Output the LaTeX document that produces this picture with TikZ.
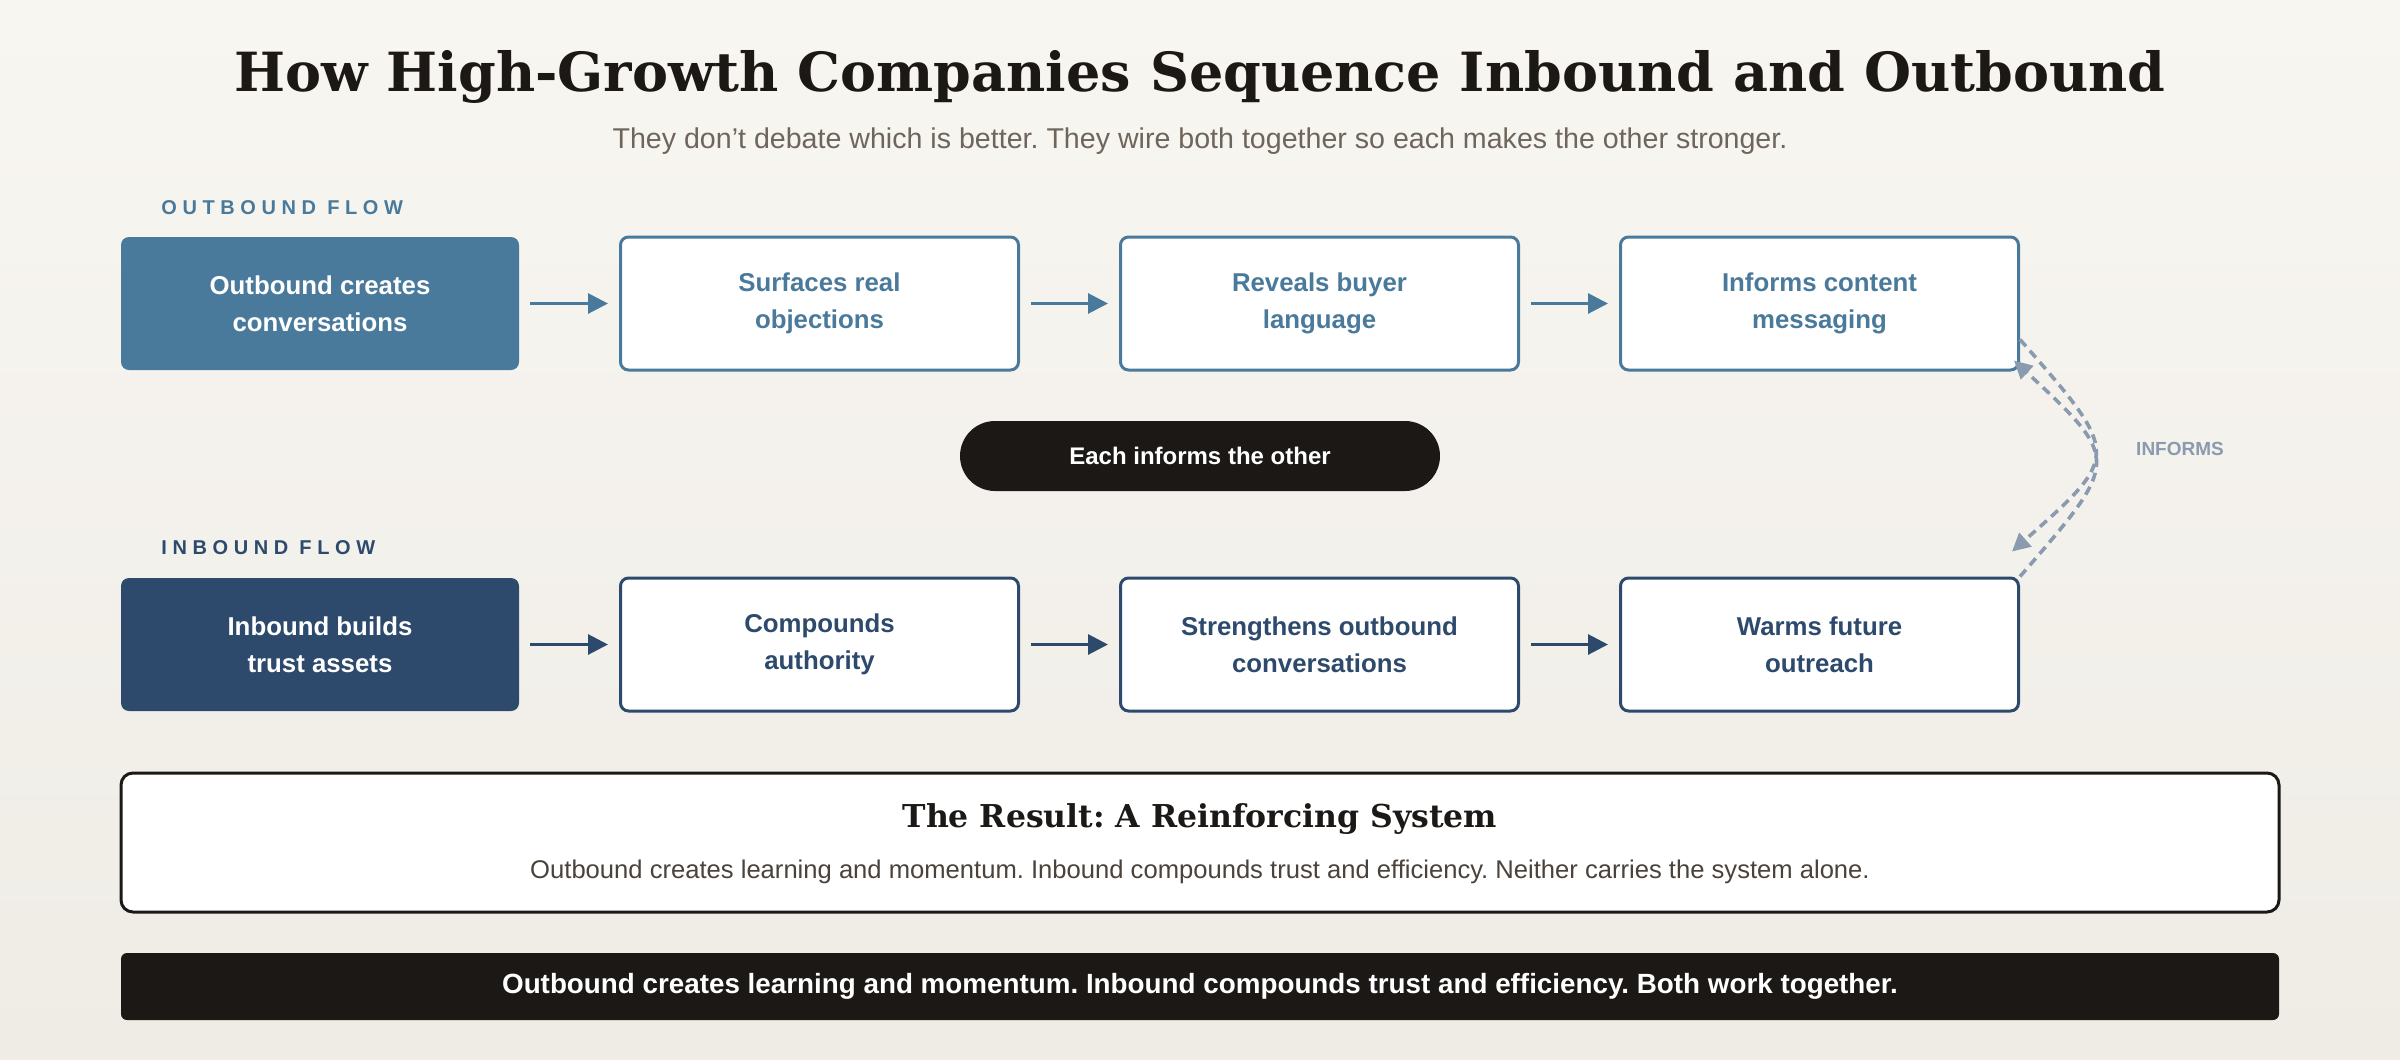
\documentclass[tikz,border=0pt]{standalone}
\usepackage{fontspec}
\setmainfont{Liberation Sans}
\newfontfamily\headfont{DejaVu Serif}
\usetikzlibrary{arrows.meta}
\frenchspacing

\definecolor{bgtop}{HTML}{F8F6F1}
\definecolor{bgbot}{HTML}{EFECE6}
\definecolor{outblue}{HTML}{4A7A9B}
\definecolor{inblue}{HTML}{2D4A6D}
\definecolor{ink}{HTML}{1C1815}
\definecolor{muted}{HTML}{6E655C}
\definecolor{bodytext}{HTML}{4A423B}
\definecolor{informgray}{HTML}{8A9BB0}

\tikzset{
  flowbox/.style={rectangle, rounded corners=4pt, minimum width=199pt, minimum height=66.5pt,
    inner sep=0pt, align=center, font=\fontsize{12.9}{18.5}\selectfont\bfseries},
  outstart/.style={flowbox, fill=outblue, text=white},
  outstep/.style={flowbox, fill=white, draw=outblue, line width=1.5pt, text=outblue},
  instart/.style={flowbox, fill=inblue, text=white},
  instep/.style={flowbox, fill=white, draw=inblue, line width=1.5pt, text=inblue},
  rowlabel/.style={anchor=west, inner sep=0pt, font=\fontsize{10}{12}\selectfont\bfseries\addfontfeatures{LetterSpace=28}},
  outarrow/.style={->, draw=outblue, line width=1.5pt, shorten <=5.5pt, shorten >=5.5pt},
  inarrow/.style={->, draw=inblue, line width=1.5pt, shorten <=5.5pt, shorten >=5.5pt},
  informs/.style={->, draw=informgray, line width=1.8pt, dash pattern=on 4.5pt off 3pt,
    >={Triangle[length=9pt,width=9pt]}},
}

\begin{document}
\begin{tikzpicture}[x=0.5pt, y=-0.5pt, >={Triangle[length=10pt,width=10pt]}]
  % background, also the bounding box (2400 x 1060)
  \shade[top color=bgtop, bottom color=bgbot] (0,0) rectangle (2400,1060);

  \node[font=\headfont\fontsize{27}{32}\selectfont\bfseries, text=ink] (title) at (1200,77)
    {How High-Growth Companies Sequence Inbound and Outbound};
  \node[font=\fontsize{14.3}{17}\selectfont, text=muted] (subtitle) at (1200,141)
    {They don't debate which is better. They wire both together so each makes the other stronger.};

  % outbound row
  \node[rowlabel, text=outblue] (outlabel) at (161,208) {OUTBOUND FLOW};
  \node[outstart] (o1) at (320,303.5) {Outbound creates\\conversations};
  \node[outstep] (o2) at (819.5,303.5) {Surfaces real\\objections};
  \node[outstep] (o3) at (1319.5,303.5) {Reveals buyer\\language};
  \node[outstep] (o4) at (1819.5,303.5) {Informs content\\messaging};
  \draw[outarrow] (o1) -- (o2);
  \draw[outarrow] (o2) -- (o3);
  \draw[outarrow] (o3) -- (o4);

  \node[fill=ink, text=white, rounded corners=17.5pt, minimum width=240pt, minimum height=35pt,
    font=\fontsize{12}{14}\selectfont\bfseries] (each) at (1200,456) {Each informs the other};

  % inbound row
  \node[rowlabel, text=inblue] (inlabel) at (161,548) {INBOUND FLOW};
  \node[instart] (i1) at (320,644.5) {Inbound builds\\trust assets};
  \node[instep] (i2) at (819.5,644.5) {Compounds\\authority};
  \node[instep] (i3) at (1319.5,644.5) {Strengthens outbound\\conversations};
  \node[instep] (i4) at (1819.5,644.5) {Warms future\\outreach};
  \draw[inarrow] (i1) -- (i2);
  \draw[inarrow] (i2) -- (i3);
  \draw[inarrow] (i3) -- (i4);

  % loop between the two rows
  \draw[informs] ([yshift=-18pt]o4.east) .. controls (2121,455) .. ([shift={(-4pt,12.5pt)}]i4.north east);
  \draw[informs] (i4.north east) .. controls (2121,460) .. ([shift={(-3pt,5.5pt)}]o4.south east);
  \node[font=\fontsize{9.5}{11}\selectfont\bfseries, text=informgray] (informs) at (2180,449) {INFORMS};

  % result
  \node[fill=white, draw=ink, line width=1.5pt, rounded corners=6pt, minimum width=1079pt,
    minimum height=69.5pt] (result) at (1200,842.5) {};
  \node[font=\headfont\fontsize{15.75}{19}\selectfont\bfseries, text=ink] (resulttitle) at (1200,819)
    {The Result: A Reinforcing System};
  \node[font=\fontsize{12.8}{15}\selectfont, text=bodytext] (resultbody) at (1200,872)
    {Outbound creates learning and momentum. Inbound compounds trust and efficiency. Neither carries the system alone.};

  \node[fill=ink, text=white, rounded corners=3pt, minimum width=1079pt, minimum height=33.5pt,
    font=\fontsize{13.9}{16}\selectfont\bfseries] (footer) at (1200,986.5)
    {Outbound creates learning and momentum. Inbound compounds trust and efficiency. Both work together.};
\end{tikzpicture}
\end{document}
